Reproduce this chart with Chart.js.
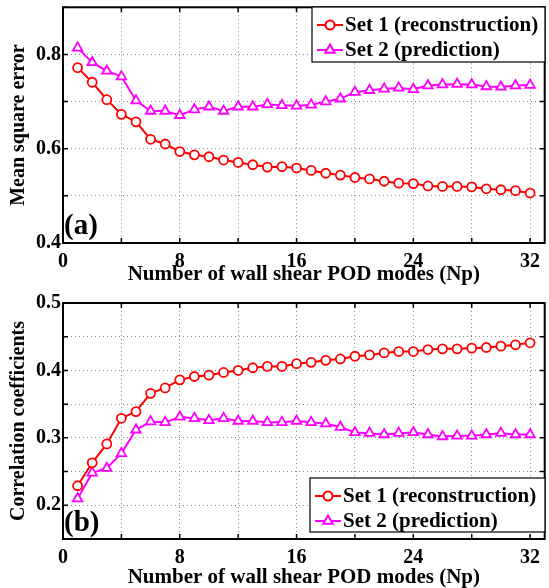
<!DOCTYPE html>
<html lang="en">
<head>
<meta charset="UTF-8">
<title>Wall shear POD modes</title>
<script src="https://cdn.jsdelivr.net/npm/chart.js"></script>
<style>
  html, body { margin: 0; padding: 0; background: #fff; overflow: hidden; }
  .panel { position: absolute; left: 0; width: 552px; }
  #top { top: 0; height: 290px; }
  #bottom { top: 290px; height: 298px; }
</style>
</head>
<body>
<div class="panel" id="top"><canvas id="chartA"></canvas></div>
<div class="panel" id="bottom"><canvas id="chartB"></canvas></div>
<script>
const modes = [1, 2, 3, 4, 5, 6, 7, 8, 9, 10, 11, 12, 13, 14, 15, 16,
               17, 18, 19, 20, 21, 22, 23, 24, 25, 26, 27, 28, 29, 30, 31, 32];

// (a) mean square error
const mseSet1 = [0.772, 0.741, 0.704, 0.673, 0.657, 0.620, 0.610, 0.594, 0.587, 0.583, 0.576, 0.571,
                 0.566, 0.561, 0.562, 0.559, 0.554, 0.548, 0.544, 0.539, 0.536, 0.531, 0.527, 0.526,
                 0.521, 0.520, 0.520, 0.519, 0.515, 0.513, 0.511, 0.506];
const mseSet2 = [0.814, 0.783, 0.765, 0.753, 0.702, 0.680, 0.680, 0.671, 0.683, 0.689, 0.680, 0.689,
                 0.689, 0.694, 0.692, 0.691, 0.693, 0.700, 0.706, 0.720, 0.724, 0.727, 0.729, 0.726,
                 0.734, 0.736, 0.737, 0.736, 0.732, 0.731, 0.734, 0.735];

// (b) correlation coefficients
const corrSet1 = [0.229, 0.263, 0.291, 0.329, 0.339, 0.366, 0.374, 0.386, 0.391, 0.393, 0.397, 0.400,
                  0.404, 0.406, 0.406, 0.410, 0.412, 0.415, 0.417, 0.421, 0.423, 0.426, 0.428, 0.428,
                  0.431, 0.432, 0.432, 0.433, 0.434, 0.436, 0.438, 0.441];
const corrSet2 = [0.210, 0.248, 0.255, 0.277, 0.312, 0.324, 0.323, 0.331, 0.329, 0.326, 0.329, 0.325,
                  0.325, 0.323, 0.323, 0.325, 0.323, 0.321, 0.316, 0.308, 0.307, 0.305, 0.307, 0.308,
                  0.305, 0.302, 0.303, 0.303, 0.305, 0.307, 0.305, 0.305];

const seriesNames = ['Set 1 (reconstruction)', 'Set 2 (prediction)'];
const xTitle = 'Number of wall shear POD modes (Np)';

const RED = '#ff0000';
const MAGENTA = '#ff00ff';
const SERIF = '"Liberation Serif", "Times New Roman", serif';

function pts(ys) {
  return modes.map((m, i) => ({ x: m, y: ys[i] }));
}

// box round the plot area and small inward tick marks like matlab
const framePlugin = {
  id: 'frame',
  afterDatasetsDraw(chart) {
    const { ctx, chartArea: a, scales } = chart;
    const xs = scales.x, ys = scales.y;
    ctx.save();
    ctx.strokeStyle = '#000';
    ctx.lineWidth = 1.5;
    for (let v = 0; v <= 32; v += 4) {
      const px = xs.getPixelForValue(v);
      ctx.beginPath();
      ctx.moveTo(px, a.bottom); ctx.lineTo(px, a.bottom - 5);
      ctx.moveTo(px, a.top); ctx.lineTo(px, a.top + 5);
      ctx.stroke();
    }
    ys.ticks.forEach(t => {
      const py = ys.getPixelForValue(t.value);
      ctx.beginPath();
      ctx.moveTo(a.left, py); ctx.lineTo(a.left + 5, py);
      ctx.moveTo(a.right, py); ctx.lineTo(a.right - 5, py);
      ctx.stroke();
    });
    ctx.lineWidth = 2;
    ctx.strokeRect(a.left, a.top, a.right - a.left, a.bottom - a.top);
    ctx.restore();
  }
};

// panel letter and the boxed legend
const notePlugin = {
  id: 'note',
  afterDraw(chart, args, o) {
    const { ctx, chartArea: a } = chart;
    ctx.save();
    ctx.fillStyle = '#000';
    ctx.font = 'bold 29px ' + SERIF;
    ctx.textBaseline = 'middle';
    ctx.fillText(o.letter, a.left + 1, o.letterY);

    const b = o.box;
    ctx.fillStyle = '#fff';
    ctx.fillRect(b.x, b.y, b.w, b.h);
    ctx.strokeStyle = '#000';
    ctx.lineWidth = 1.2;
    ctx.strokeRect(b.x, b.y, b.w, b.h);

    const styles = [
      { color: RED, pointStyle: 'circle', radius: 4.5 },
      { color: MAGENTA, pointStyle: 'triangle', radius: 5.5 }
    ];
    seriesNames.forEach((name, i) => {
      const y = b.y + 18 + i * 25;
      const s = styles[i];
      ctx.strokeStyle = s.color;
      ctx.lineWidth = 2;
      ctx.beginPath();
      ctx.moveTo(b.x + 5, y); ctx.lineTo(b.x + 31, y);
      ctx.stroke();
      ctx.fillStyle = '#fff';
      Chart.helpers.drawPoint(ctx, { pointStyle: s.pointStyle, radius: s.radius, borderWidth: 1.8, rotation: 0 }, b.x + 18, y);
      ctx.fillStyle = '#000';
      ctx.font = 'bold 21px ' + SERIF;
      ctx.textBaseline = 'middle';
      ctx.fillText(name, b.x + 33, y + 1);
    });
    ctx.restore();
  }
};

function makeChart(id, d1, d2, y, o) {
  return new Chart(document.getElementById(id), {
    type: 'line',
    data: {
      datasets: [
        {
          label: seriesNames[0], data: pts(d1),
          borderColor: RED, backgroundColor: '#fff', borderWidth: 2,
          pointStyle: 'circle', pointRadius: 4.5, pointBorderWidth: 1.8, pointBackgroundColor: '#fff'
        },
        {
          label: seriesNames[1], data: pts(d2),
          borderColor: MAGENTA, backgroundColor: '#fff', borderWidth: 2,
          pointStyle: 'triangle', pointRadius: 5.5, pointBorderWidth: 1.8, pointBackgroundColor: '#fff'
        }
      ]
    },
    options: {
      responsive: true,
      maintainAspectRatio: false,
      animation: false,
      layout: { padding: { top: o.padTop, right: 0, left: 0, bottom: 0 } },
      plugins: {
        legend: { display: false },
        tooltip: { enabled: false },
        note: o.note
      },
      scales: {
        x: {
          type: 'linear', min: 0, max: 33,
          afterFit: s => { s.height = o.xHeight; },
          ticks: {
            stepSize: 4, includeBounds: false, padding: 7, maxRotation: 0, autoSkip: false,
            color: '#000', font: { family: SERIF, size: 20, weight: 'bold' },
            callback: v => (v % 8 === 0 ? String(v) : '')
          },
          grid: { display: true, color: '#8a8a8a', lineWidth: 1, drawTicks: false },
          border: { display: false, dash: [1, 3] },
          title: {
            display: true, text: xTitle, color: '#000',
            font: { family: SERIF, size: 21, weight: 'bold', lineHeight: 1 },
            padding: { top: 0, bottom: o.titlePad }
          }
        },
        y: {
          min: y.min, max: y.max,
          afterFit: s => { s.width = 63; s.paddingTop = 0; s.paddingBottom = 0; },
          ticks: {
            stepSize: y.step, padding: 2, autoSkip: false,
            color: '#000', font: { family: SERIF, size: 20, weight: 'bold' },
            callback: v => (y.labels.includes(Math.round(v * 100)) ? v.toFixed(1) : '')
          },
          grid: { display: true, color: '#8a8a8a', lineWidth: 1, drawTicks: false },
          border: { display: false, dash: [1, 3] },
          title: {
            display: true, text: y.title, color: '#000',
            font: { family: SERIF, size: 20, weight: 'bold', lineHeight: 1 },
            padding: { top: 9, bottom: 0 }
          }
        }
      }
    },
    plugins: [framePlugin, notePlugin]
  });
}

makeChart('chartA', mseSet1, mseSet2,
  { min: 0.4, max: 0.9, step: 0.1, labels: [40, 60, 80], title: 'Mean square error' },
  { padTop: 1, xHeight: 47, titlePad: 5,
    note: { letter: '(a)', letterY: 227, box: { x: 312, y: 7, w: 233, h: 55 } } });

makeChart('chartB', corrSet1, corrSet2,
  { min: 0.15, max: 0.5, step: 0.05, labels: [20, 30, 40, 50], title: 'Correlation coefficients' },
  { padTop: 13, xHeight: 49, titlePad: 0,
    note: { letter: '(b)', letterY: 234, box: { x: 310, y: 188, w: 235, h: 54 } } });
</script>
</body>
</html>
